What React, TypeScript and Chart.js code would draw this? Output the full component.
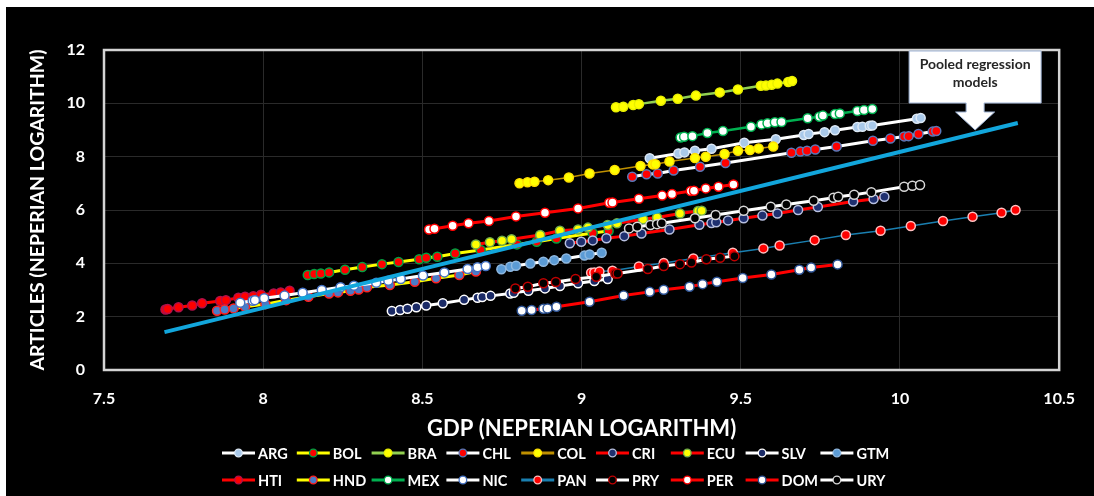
import React, { useEffect, useRef } from 'react';
import { Chart, registerables } from 'chart.js';

Chart.register(...registerables);

const FONT = 'Lato, "Open Sans", sans-serif';

// ---------- data (ln GDP, ln articles) ----------
const ARG_X = [9.214, 9.304, 9.323, 9.356, 9.408, 9.511, 9.61, 9.698, 9.713, 9.763, 9.796, 9.866, 9.882, 9.905, 9.913, 10.053, 10.065];
const ARG_Y = [7.94, 8.12, 8.16, 8.22, 8.3, 8.52, 8.65, 8.81, 8.85, 8.92, 8.99, 9.11, 9.12, 9.16, 9.17, 9.42, 9.45];

const BOL_X = [8.14, 8.16, 8.181, 8.207, 8.257, 8.311, 8.373, 8.425, 8.49, 8.512, 8.547, 8.603, 8.683, 8.797, 8.859, 8.921, 9.035, 9.085];
const BOL_Y = [3.56, 3.6, 3.62, 3.66, 3.76, 3.86, 3.97, 4.05, 4.15, 4.21, 4.25, 4.37, 4.5, 4.71, 4.81, 4.93, 5.14, 5.21];

const BRA_X = [9.108, 9.131, 9.162, 9.18, 9.249, 9.302, 9.359, 9.434, 9.491, 9.563, 9.579, 9.597, 9.615, 9.649, 9.661];
const BRA_Y = [9.85, 9.87, 9.94, 9.97, 10.1, 10.17, 10.29, 10.41, 10.52, 10.66, 10.67, 10.7, 10.74, 10.8, 10.84];

const CHL_X = [9.159, 9.204, 9.239, 9.289, 9.372, 9.452, 9.659, 9.687, 9.708, 9.734, 9.801, 9.915, 9.97, 10.013, 10.027, 10.058, 10.103, 10.114];
const CHL_Y = [7.25, 7.34, 7.37, 7.48, 7.62, 7.76, 8.15, 8.19, 8.22, 8.27, 8.38, 8.6, 8.68, 8.76, 8.77, 8.85, 8.94, 8.96];

const COL_X = [8.805, 8.83, 8.852, 8.895, 8.96, 9.025, 9.104, 9.185, 9.224, 9.232, 9.276, 9.356, 9.39, 9.449, 9.491, 9.529, 9.556, 9.602];
const COL_Y = [7.0, 7.04, 7.06, 7.12, 7.22, 7.37, 7.5, 7.65, 7.71, 7.72, 7.82, 7.95, 8.0, 8.1, 8.22, 8.25, 8.31, 8.38];

const CRI_X = [8.963, 8.999, 9.035, 9.078, 9.134, 9.188, 9.276, 9.37, 9.408, 9.423, 9.46, 9.509, 9.568, 9.615, 9.68, 9.742, 9.853, 9.917, 9.951];
const CRI_Y = [4.75, 4.81, 4.86, 4.94, 5.02, 5.12, 5.27, 5.45, 5.51, 5.54, 5.61, 5.69, 5.79, 5.87, 6.0, 6.11, 6.32, 6.41, 6.5];

const ECU_X = [8.668, 8.712, 8.75, 8.78, 8.87, 8.932, 8.989, 9.02, 9.082, 9.111, 9.193, 9.237, 9.309, 9.366, 9.377];
const ECU_Y = [4.71, 4.79, 4.85, 4.9, 5.06, 5.22, 5.27, 5.34, 5.44, 5.5, 5.65, 5.72, 5.87, 5.96, 5.97];

const SLV_X = [8.404, 8.43, 8.453, 8.481, 8.512, 8.564, 8.631, 8.673, 8.688, 8.714, 8.776, 8.787, 8.833, 8.885, 8.932, 8.989, 9.04, 9.082];
const SLV_Y = [2.21, 2.25, 2.3, 2.35, 2.42, 2.5, 2.63, 2.71, 2.74, 2.78, 2.87, 2.9, 2.97, 3.06, 3.15, 3.25, 3.34, 3.41];

const GTM_X = [8.748, 8.776, 8.794, 8.839, 8.88, 8.914, 8.952, 9.009, 9.025, 9.063];
const GTM_Y = [3.78, 3.87, 3.91, 3.99, 4.06, 4.12, 4.18, 4.29, 4.33, 4.4];

const HTI_X = [7.693, 7.7, 7.734, 7.777, 7.808, 7.865, 7.883, 7.922, 7.943, 7.969, 7.993, 8.033, 8.055, 8.083];
const HTI_Y = [2.27, 2.29, 2.35, 2.42, 2.5, 2.59, 2.62, 2.71, 2.75, 2.77, 2.82, 2.87, 2.91, 2.97];

const HND_X = [7.855, 7.879, 7.907, 7.943, 8.007, 8.072, 8.142, 8.207, 8.235, 8.274, 8.3, 8.326, 8.398, 8.476, 8.543, 8.616, 8.668];
const HND_Y = [2.22, 2.27, 2.31, 2.37, 2.47, 2.62, 2.75, 2.87, 2.91, 2.97, 3.02, 3.1, 3.19, 3.31, 3.44, 3.56, 3.69];

const MEX_X = [9.311, 9.322, 9.348, 9.395, 9.444, 9.532, 9.565, 9.584, 9.607, 9.628, 9.71, 9.747, 9.758, 9.796, 9.811, 9.866, 9.887, 9.913];
const MEX_Y = [8.72, 8.75, 8.77, 8.89, 8.96, 9.12, 9.21, 9.25, 9.29, 9.3, 9.44, 9.5, 9.54, 9.6, 9.62, 9.71, 9.75, 9.79];

const NIC_X = [7.928, 7.967, 7.974, 8.003, 8.067, 8.124, 8.184, 8.243, 8.285, 8.355, 8.393, 8.432, 8.502, 8.569, 8.642, 8.673, 8.699];
const NIC_Y = [2.52, 2.6, 2.62, 2.69, 2.79, 2.9, 3.0, 3.1, 3.16, 3.27, 3.35, 3.41, 3.54, 3.66, 3.79, 3.85, 3.9];

const PAN_X = [9.03, 9.04, 9.056, 9.097, 9.18, 9.258, 9.351, 9.475, 9.571, 9.622, 9.732, 9.83, 9.939, 10.034, 10.135, 10.228, 10.319, 10.363];
const PAN_Y = [3.65, 3.66, 3.69, 3.72, 3.88, 4.01, 4.18, 4.4, 4.56, 4.67, 4.87, 5.06, 5.22, 5.4, 5.59, 5.75, 5.9, 6.0];

const PRY_X = [8.792, 8.831, 8.88, 8.919, 8.981, 9.046, 9.106, 9.113, 9.208, 9.258, 9.309, 9.345, 9.392, 9.435, 9.48];
const PRY_Y = [3.06, 3.12, 3.25, 3.3, 3.41, 3.5, 3.62, 3.62, 3.79, 3.9, 3.97, 4.03, 4.15, 4.21, 4.27];

const PER_X = [8.521, 8.538, 8.595, 8.645, 8.709, 8.794, 8.885, 8.989, 9.087, 9.097, 9.18, 9.253, 9.284, 9.343, 9.353, 9.39, 9.43, 9.477];
const PER_Y = [5.27, 5.3, 5.41, 5.5, 5.59, 5.76, 5.9, 6.06, 6.27, 6.28, 6.42, 6.54, 6.6, 6.71, 6.72, 6.81, 6.87, 6.96];

const DOM_X = [8.812, 8.843, 8.88, 8.893, 8.921, 9.025, 9.132, 9.214, 9.258, 9.339, 9.38, 9.425, 9.506, 9.596, 9.684, 9.721, 9.804];
const DOM_Y = [2.22, 2.25, 2.3, 2.31, 2.37, 2.56, 2.79, 2.93, 3.01, 3.12, 3.22, 3.31, 3.45, 3.58, 3.76, 3.84, 3.96];

const URY_X = [9.149, 9.175, 9.216, 9.237, 9.252, 9.356, 9.421, 9.509, 9.594, 9.643, 9.729, 9.791, 9.806, 9.856, 9.91, 10.013, 10.039, 10.063];
const URY_Y = [5.31, 5.37, 5.44, 5.47, 5.5, 5.69, 5.81, 5.97, 6.12, 6.21, 6.35, 6.46, 6.5, 6.57, 6.67, 6.87, 6.91, 6.94];

const POOLED_X = [7.69, 10.37];
const POOLED_Y = [1.42, 9.26];

const X_TICKS = { min: 7.5, max: 10.5, step: 0.5 };
const Y_TICKS = { min: 0, max: 12, step: 2 };

const X_TITLE = 'GDP (NEPERIAN LOGARITHM)';
const Y_TITLE = 'ARTICLES (NEPERIAN LOGARITHM)';
const CALLOUT_LINES = ['Pooled regression', 'models'];
const CALLOUT_TIP = { x: 10.236, y: 9.0 };

// ---------- styles ----------
type S = { label: string; xs: number[]; ys: number[]; line: string; fill: string; stroke: string; lw: number };
const SERIES: S[] = [
  { label: 'ARG', xs: ARG_X, ys: ARG_Y, line: '#ffffff', fill: '#a9c9ea', stroke: '#dde9f6', lw: 3 },
  { label: 'BOL', xs: BOL_X, ys: BOL_Y, line: '#ffff00', fill: '#ff0000', stroke: '#00a040', lw: 3 },
  { label: 'BRA', xs: BRA_X, ys: BRA_Y, line: '#92d050', fill: '#ffff00', stroke: '#e8f000', lw: 2.5 },
  { label: 'CHL', xs: CHL_X, ys: CHL_Y, line: '#ffffff', fill: '#ff0000', stroke: '#5a78b8', lw: 3 },
  { label: 'COL', xs: COL_X, ys: COL_Y, line: '#bf9000', fill: '#ffff00', stroke: '#ffe000', lw: 1.5 },
  { label: 'CRI', xs: CRI_X, ys: CRI_Y, line: '#ff0000', fill: '#1f3070', stroke: '#b8c0e0', lw: 3 },
  { label: 'ECU', xs: ECU_X, ys: ECU_Y, line: '#ff0000', fill: '#ffff00', stroke: '#70ad47', lw: 3 },
  { label: 'SLV', xs: SLV_X, ys: SLV_Y, line: '#ffffff', fill: '#1a2a66', stroke: '#ffffff', lw: 3 },
  { label: 'GTM', xs: GTM_X, ys: GTM_Y, line: '#ffffff', fill: '#5b9bd5', stroke: '#8fb8e0', lw: 3 },
  { label: 'HTI', xs: HTI_X, ys: HTI_Y, line: '#ff0000', fill: '#ff0000', stroke: '#b0104a', lw: 3 },
  { label: 'HND', xs: HND_X, ys: HND_Y, line: '#ffff00', fill: '#4a7cc8', stroke: '#ff2020', lw: 3 },
  { label: 'MEX', xs: MEX_X, ys: MEX_Y, line: '#00b050', fill: '#ffffff', stroke: '#00b050', lw: 2.5 },
  { label: 'NIC', xs: NIC_X, ys: NIC_Y, line: '#ffffff', fill: '#ffffff', stroke: '#4472c4', lw: 3 },
  { label: 'PAN', xs: PAN_X, ys: PAN_Y, line: '#1a7fb0', fill: '#ff0000', stroke: '#ffc0c0', lw: 1.5 },
  { label: 'PRY', xs: PRY_X, ys: PRY_Y, line: '#ffffff', fill: '#000000', stroke: '#c00000', lw: 3 },
  { label: 'PER', xs: PER_X, ys: PER_Y, line: '#ff0000', fill: '#ffffff', stroke: '#ff0000', lw: 3 },
  { label: 'DOM', xs: DOM_X, ys: DOM_Y, line: '#ff0000', fill: '#ffffff', stroke: '#2f5597', lw: 3 },
  { label: 'URY', xs: URY_X, ys: URY_Y, line: '#ffffff', fill: '#000000', stroke: '#d8d8d8', lw: 3 },
];
const POOLED_COLOR = '#12a6dc';

const W = 1088;
const H = 489;

const plotBorder = {
  id: 'plotBorder',
  beforeDatasetsDraw(chart: any) {
    const { ctx, chartArea: a } = chart;
    ctx.save();
    ctx.strokeStyle = '#d4d4d4';
    ctx.lineWidth = 2.5;
    ctx.strokeRect(a.left, a.top, a.right - a.left, a.bottom - a.top);
    ctx.restore();
  },
};

const legendPlugin = {
  id: 'gridLegend',
  afterDraw(chart: any) {
    const ctx = chart.ctx;
    ctx.save();
    ctx.font = `bold 14.5px ${FONT}`;
    ctx.textBaseline = 'middle';
    ctx.textAlign = 'left';
    SERIES.forEach((s, i) => {
      const row = Math.floor(i / 9);
      const col = i % 9;
      const x0 = 216 + col * 74.8;
      const y = 446 + row * 27;
      ctx.strokeStyle = s.line;
      ctx.lineWidth = 3;
      ctx.beginPath();
      ctx.moveTo(x0, y);
      ctx.lineTo(x0 + 33, y);
      ctx.stroke();
      ctx.beginPath();
      ctx.arc(x0 + 16.5, y, 3.8, 0, Math.PI * 2);
      ctx.fillStyle = s.fill;
      ctx.fill();
      ctx.lineWidth = 1.3;
      ctx.strokeStyle = s.stroke;
      ctx.stroke();
      ctx.fillStyle = '#ffffff';
      ctx.fillText(s.label, x0 + 36, y + 1);
    });
    ctx.restore();
  },
};

const calloutPlugin = {
  id: 'callout',
  afterDraw(chart: any) {
    const { ctx, scales } = chart;
    const tx = scales.x.getPixelForValue(CALLOUT_TIP.x);
    const ty = scales.y.getPixelForValue(CALLOUT_TIP.y);
    const bl = tx - 66, br = tx + 66, bt = ty - 79, bb = ty - 27;
    ctx.save();
    ctx.beginPath();
    ctx.moveTo(bl, bt);
    ctx.lineTo(br, bt);
    ctx.lineTo(br, bb);
    ctx.lineTo(tx + 9, bb);
    ctx.lineTo(tx + 9, ty - 18);
    ctx.lineTo(tx + 19.5, ty - 18);
    ctx.lineTo(tx, ty);
    ctx.lineTo(tx - 19.5, ty - 18);
    ctx.lineTo(tx - 9, ty - 18);
    ctx.lineTo(tx - 9, bb);
    ctx.lineTo(bl, bb);
    ctx.closePath();
    ctx.fillStyle = '#ffffff';
    ctx.fill();
    ctx.strokeStyle = '#9fb4d6';
    ctx.lineWidth = 1;
    ctx.stroke();
    ctx.fillStyle = '#262626';
    ctx.font = `bold 14px ${FONT}`;
    ctx.textAlign = 'center';
    ctx.textBaseline = 'middle';
    ctx.fillText(CALLOUT_LINES[0], tx, ty - 66);
    ctx.fillText(CALLOUT_LINES[1], tx, ty - 48);
    ctx.restore();
  },
};

export default function App() {
  const ref = useRef<HTMLCanvasElement | null>(null);

  useEffect(() => {
    document.body.style.margin = '0';
    if (!ref.current) return;
    const datasets: any[] = SERIES.map((s, i) => ({
      label: s.label,
      data: s.xs.map((x, k) => ({ x, y: s.ys[k] })),
      showLine: true,
      borderColor: s.line,
      borderWidth: s.lw,
      backgroundColor: s.fill,
      pointBackgroundColor: s.fill,
      pointBorderColor: s.stroke,
      pointBorderWidth: 1.5,
      pointRadius: 4.5,
      pointHoverRadius: 4.5,
      order: -i,
    }));
    datasets.push({
      label: 'Pooled',
      data: POOLED_X.map((x, k) => ({ x, y: POOLED_Y[k] })),
      showLine: true,
      borderColor: POOLED_COLOR,
      borderWidth: 4,
      pointRadius: 0,
      order: -100,
    });

    const chart = new Chart(ref.current, {
      type: 'scatter',
      data: { datasets },
      plugins: [plotBorder, legendPlugin, calloutPlugin],
      options: {
        animation: false,
        responsive: false,
        events: [],
        layout: { padding: { left: 0, right: 24, top: 43, bottom: 0 } },
        plugins: { legend: { display: false }, tooltip: { enabled: false } },
        scales: {
          x: {
            type: 'linear',
            min: X_TICKS.min,
            max: X_TICKS.max,
            afterFit: (s: any) => { s.height = 126; },
            border: { display: false },
            grid: { color: '#2a2a2a', drawTicks: false, lineWidth: 1 },
            ticks: {
              stepSize: X_TICKS.step,
              color: '#ffffff',
              padding: 19,
              font: { family: FONT, size: 16, weight: 'bold' },
              callback: (v: any) => String(v),
            },
            title: {
              display: true,
              text: X_TITLE,
              color: '#ffffff',
              font: { family: FONT, size: 22, weight: 'bold' },
              padding: { top: 0, bottom: 54 },
            },
          },
          y: {
            type: 'linear',
            min: Y_TICKS.min,
            max: Y_TICKS.max,
            afterFit: (s: any) => { s.width = 98; },
            border: { display: false },
            grid: { color: '#2a2a2a', drawTicks: false, lineWidth: 1 },
            ticks: {
              stepSize: Y_TICKS.step,
              color: '#ffffff',
              padding: 19,
              font: { family: FONT, size: 16, weight: 'bold' },
            },
            title: {
              display: true,
              text: Y_TITLE,
              color: '#ffffff',
              font: { family: FONT, size: 19.5, weight: 'bold' },
              padding: { top: 20, bottom: 0 },
            },
          },
        },
      } as any,
    });
    return () => chart.destroy();
  }, []);

  return (
    <div style={{ width: 1094, height: 496, background: '#ffffff', paddingLeft: 6, paddingTop: 7, boxSizing: 'border-box' }}>
      <canvas ref={ref} width={W} height={H} style={{ display: 'block', background: '#000000', width: W, height: H }} />
    </div>
  );
}
